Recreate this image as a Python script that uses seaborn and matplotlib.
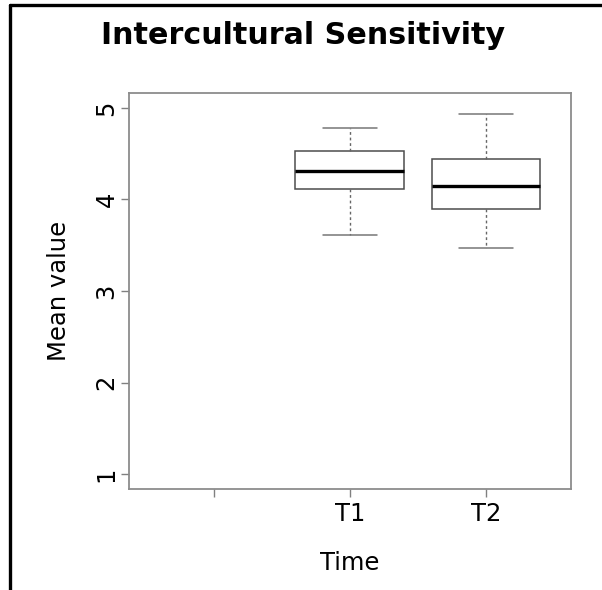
import numpy as np
import pandas as pd
import matplotlib
matplotlib.use("Agg")
import matplotlib.pyplot as plt
import seaborn as sns
from matplotlib.lines import Line2D

# Data (five-number summaries)
categories = ["", "T1", "T2"]
t1_values = [3.61, 4.11, 4.31, 4.53, 4.78]
t2_values = [3.47, 3.90, 4.15, 4.44, 4.93]
y_ticks = [1, 2, 3, 4, 5]
title = "Intercultural Sensitivity"
x_label = "Time"
y_label = "Mean value"

df = pd.DataFrame({
    "Time": ["T1"] * len(t1_values) + ["T2"] * len(t2_values),
    "value": t1_values + t2_values,
})

sns.set_style("white")
plt.rcParams["font.family"] = ["DejaVu Sans"]
plt.rcParams["text.color"] = "black"
plt.rcParams["axes.labelcolor"] = "black"
plt.rcParams["xtick.color"] = "black"
plt.rcParams["ytick.color"] = "black"

fig = plt.figure(figsize=(6.02, 5.90), dpi=100)
ax = fig.add_axes([128.7 / 602, 1 - 488.7 / 590, (571 - 128.7) / 602, (488.7 - 93.3) / 590])

box_col = "#4d4d4d"
sns.boxplot(data=df, x="Time", y="value", order=categories, whis=(0, 100),
            width=0.8, color="white", linecolor=box_col, linewidth=1.1,
            medianprops=dict(color="black", linewidth=2.4),
            whiskerprops=dict(color="#666666", linestyle=(0, (2, 2)), linewidth=1.0),
            capprops=dict(color="#777777", linewidth=1.1),
            boxprops=dict(edgecolor=box_col, linewidth=1.1),
            ax=ax)

ax.set_xlim(-0.625, 2.625)
ax.set_ylim(0.84, 5.16)
ax.set_yticks(y_ticks)
ax.set_yticklabels([str(v) for v in y_ticks], rotation=90, va="center", fontsize=17.5)
ax.set_xticks(range(len(categories)))
ax.set_xticklabels(categories, fontsize=17.5)
ax.tick_params(axis="both", which="both", length=5.8, width=1.0, color="#808080",
               labelcolor="black", left=True, bottom=True)
ax.tick_params(axis="y", pad=1.5)
ax.tick_params(axis="x", pad=3.5)
for s in ax.spines.values():
    s.set_color("#8c8c8c")
    s.set_linewidth(1.3)
    s.set_visible(True)

ax.set_xlabel(x_label, fontsize=17.5, labelpad=18, color="black")
ax.set_ylabel(y_label, fontsize=17.5, labelpad=17, color="black")

fig.text(303 / 602, 1 - 35 / 590, title, ha="center", va="center",
         fontsize=21.7, fontweight="bold", color="black")

# frame border (cropped)
fig.add_artist(Line2D([9.5 / 602, 9.5 / 602], [0, 1 - 5 / 590], color="black", linewidth=2.4,
                      transform=fig.transFigure))
fig.add_artist(Line2D([9.5 / 602, 1], [1 - 5 / 590, 1 - 5 / 590], color="black", linewidth=2.4,
                      transform=fig.transFigure))

fig.savefig("out.png", dpi=100)
